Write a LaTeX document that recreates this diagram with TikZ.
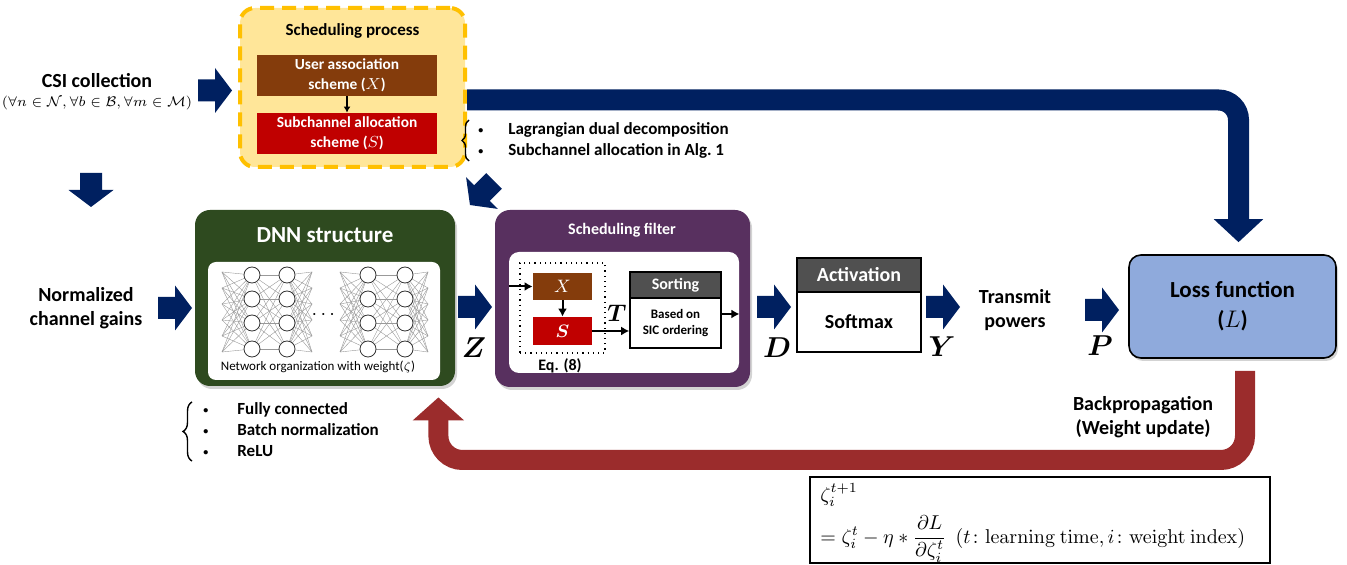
\documentclass[tikz,border=0pt]{standalone}
\usepackage[no-math]{fontspec}
\setmainfont{Carlito}
\usepackage{amsmath}
\usepackage{bm}
\usetikzlibrary{calc,arrows.meta,shadows,decorations.pathreplacing}

\definecolor{navy}{HTML}{002060}
\definecolor{brick}{HTML}{9B2C2C}
\definecolor{dnngreen}{HTML}{2E4A1F}
\definecolor{filterpurple}{HTML}{58305F}
\definecolor{assocbrown}{HTML}{843C0C}
\definecolor{subred}{HTML}{C00000}
\definecolor{schedfill}{HTML}{FFE699}
\definecolor{schedline}{HTML}{FFC000}
\definecolor{headgray}{HTML}{505050}
\definecolor{lossblue}{HTML}{8FAADC}

\def\fsz#1#2{\fontsize{#1}{#2}\selectfont\bfseries}
\def\bul{\raisebox{0.6pt}{\fontsize{5}{5}\selectfont\textbullet}}
\def\BlockArrow#1#2{%
	\begin{scope}[shift={(#1)}, rotate=#2]
		\fill[navy] (0,-11) -- (17,-11) -- (17,-22.5) -- (34,0) -- (17,22.5) -- (17,11) -- (0,11) -- cycle;
	\end{scope}
}

\tikzset{
	box/.style={inner sep=0pt, rounded corners=7.5pt},
	shade box/.style={box, drop shadow={opacity=0.35, shadow xshift=1pt, shadow yshift=-1.5pt}},
	white title/.style={text=white, font=\fsz{#1}{#1}},
	plain box/.style={draw=black, line width=0.8pt, inner sep=0pt},
	inner box/.style={fill=#1, text=white, inner sep=0pt, align=center},
	flow/.style={line width=1pt, -{Latex[length=4pt, width=4.5pt]}},
	sym/.style={font=\fsz{14}{14}},
	notes/.style={anchor=west, inner sep=0pt, align=left, font=\fsz{8.5}{10.5}},
	neuron/.style={draw=black!80, fill=white, line width=0.4pt},
	syn/.style={draw=black!40, line width=0.2pt},
	feed/.style={navy, line width=10.5pt, rounded corners=10pt, -{Triangle[length=11.5pt, width=24pt]}},
	backprop/.style={brick, line width=10pt, rounded corners=12pt, -{Triangle[length=11.5pt, width=25pt]}}
}

\begin{document}
\begin{tikzpicture}[x=0.5pt, y=-0.5pt, font=\fsz{10}{12}]
\useasboundingbox (0,0) rectangle (1347,565);

% scheduling process
\node[box, fill=schedfill, draw=schedline, line width=2pt, dash pattern=on 7pt off 4pt, minimum width=112.5pt, minimum height=79.5pt] (sched) at (352.5,87.5) {};
\node[font=\fsz{8.5}{10}] (schedtitle) at (352.5,31) {Scheduling process};
\node[inner box=assocbrown, minimum width=90pt, minimum height=20.5pt, font=\fsz{7.7}{10}] (assoc) at (347,75.5) {User association\\scheme ($X$)};
\node[inner box=subred, minimum width=90pt, minimum height=20.5pt, font=\fsz{7.7}{10}] (subch) at (347,133.5) {Subchannel allocation\\scheme ($S$)};
\draw[line width=0.75pt, -{Latex[length=3pt, width=3.5pt]}] (assoc) -- (subch);

\draw[decorate, decoration={brace, amplitude=3.5pt}, line width=0.7pt] (469,161) -- (469,120);
\node[notes] (schednotes) at (478,140.5) {\makebox[15pt][l]{\bul}Lagrangian dual decomposition\\\makebox[15pt][l]{\bul}Subchannel allocation in Alg.~1};

% CSI input
\node (csi) at (97,81) {CSI collection};
\node[font=\fsz{6.6}{8}\mdseries] (csiset) at (97,103) {$(\forall n\in\mathcal{N},\forall b\in\mathcal{B},\forall m\in\mathcal{M})$};
\BlockArrow{198,90.5}{0}
\BlockArrow{91,173}{-90}
\BlockArrow{494,181}{-135}

\node[align=center] (gains) at (86,308) {Normalized\\channel gains};
\BlockArrow{158,308}{0}

% DNN structure
\node[shade box, fill=dnngreen, minimum width=130pt, minimum height=88pt] (dnn) at (325,298) {};
\node[white title=11.5] (dnntitle) at (325,235) {DNN structure};
\node[box, fill=white, rounded corners=4pt, minimum width=116pt, minimum height=59pt] (dnnin) at (324,321) {};
\foreach \gx/\ga/\gb/\gout in {222/252/287/312, 340/368/405/428}{
	\foreach \ya in {275,299,323,349}{
		\foreach \yb in {272,288,304,320,336,352}{
			\draw[syn] (\gx,\yb) -- (\ga,\ya);
			\draw[syn] (\gb,\ya) -- (\gout,\yb);
		}
		\foreach \yc in {275,299,323,349}
			\draw[syn] (\ga,\ya) -- (\gb,\yc);
	}
	\foreach \ya in {275,299,323,349}{
		\draw[neuron] (\ga,\ya) circle (4pt);
		\draw[neuron] (\gb,\ya) circle (4pt);
	}
}
\node (dots) at (325,315) {$\cdots$};
\node[font=\fsz{6.5}{8}\mdseries] (dnncap) at (318,367) {Network organization with weight($\zeta$)};

\draw[decorate, decoration={brace, amplitude=4.5pt}, line width=0.7pt] (192,461) -- (192,402);
\node[notes] (dnnnotes) at (203,430) {\makebox[17pt][l]{\bul}Fully connected\\\makebox[17pt][l]{\bul}Batch normalization\\\makebox[17pt][l]{\bul}ReLU};

\BlockArrow{458,307}{0}
\node[sym] (zlab) at (474,348) {$\bm{Z}$};

% scheduling filter
\node[shade box, fill=filterpurple, minimum width=127.5pt, minimum height=88.5pt] (filter) at (622.5,298.5) {};
\node[white title=8] (filtertitle) at (622,230) {Scheduling filter};
\node[box, fill=white, rounded corners=5pt, minimum width=115pt, minimum height=60.5pt] (filterin) at (624,312.5) {};
\node[draw=black, dotted, line width=0.6pt, minimum width=42.5pt, minimum height=45pt, inner sep=0pt] (eqbox) at (562.5,308) {};
\node[inner box=assocbrown, minimum width=29.5pt, minimum height=13.5pt, font=\fsz{9}{9}] (xbox) at (562.5,286.5) {$X$};
\node[inner box=subred, minimum width=29.5pt, minimum height=14pt, font=\fsz{9}{9}] (sbox) at (562.5,331) {$\bm{S}$};
\node[font=\fsz{8}{8}] (eqlab) at (560,366) {Eq. (8)};
\node[plain box, fill=headgray, text=white, minimum width=45.5pt, minimum height=13pt, font=\fsz{8}{8}] (sorthd) at (675.5,285) {Sorting};
\node[plain box, fill=white, minimum width=45.5pt, minimum height=25pt, align=center, font=\fsz{6.5}{8}] (sortbd) at (675.5,323) {Based on\\SIC ordering};
\draw[flow] (filterin.west |- xbox) -- (xbox);
\draw[flow] (xbox) -- (sbox);
\draw[flow] (sbox) -- (sortbd.west |- sbox);
\coordinate (sortout) at ($(sortbd.east)+(0,-9)$);
\draw[flow] (sortout) -- (filterin.east |- sortout);
\node[font=\fsz{12}{12}] (tlab) at (617,313) {$\bm{T}$};

% activation
\BlockArrow{757,307}{0}
\node[sym] (dlab) at (777,348) {$\bm{D}$};
\node[plain box, fill=headgray, text=white, minimum width=62pt, minimum height=17pt] (acthd) at (859,275) {Activation};
\node[plain box, fill=white, minimum width=62pt, minimum height=30pt] (actbd) at (859,322) {Softmax};

\BlockArrow{926,307}{0}
\node[sym] (ylab) at (942,347) {$\bm{Y}$};
\node[align=center] (powers) at (1015,310) {Transmit\\powers};
\BlockArrow{1085,310}{0}
\node[sym] (plab) at (1100,346) {$\bm{P}$};

% loss
\node[shade box, fill=lossblue, draw=black, line width=0.8pt, rounded corners=6pt, minimum width=103.5pt, minimum height=51.5pt, align=center, font=\fsz{11.5}{15}] (loss) at (1232.5,306.5) {Loss function\\($L$)};

\coordinate (topcorner) at (1238.5,100);
\draw[feed, shorten >=6pt] ($(sched.east)+(0,12.5)$) -- (topcorner) -- (topcorner |- loss.north);

\coordinate (backcorner) at (1245,460);
\draw[backprop, shorten <=6pt, shorten >=5.5pt] (loss.south -| backcorner) -- (backcorner) -| ($(dnn.south east)+(-17,0)$);
\node[align=center] (bplab) at (1143,417) {Backpropagation\\(Weight update)};

% weight update rule
\node[draw=black, line width=1pt, minimum width=230pt, minimum height=43pt, inner sep=0pt] (update) at (1040,520) {};
\node[anchor=west, inner sep=0pt, font=\fsz{10}{12}\mdseries] (rulea) at (820,495) {$\zeta_i^{t+1}$};
\node[anchor=west, inner sep=0pt, font=\fsz{10}{12}\mdseries] (ruleb) at (820,539) {$=\zeta_i^t-\eta*\dfrac{\partial L}{\partial\zeta_i^t}\ \ (t\colon\mathrm{learning~time}, i\colon\mathrm{weight~index})$};
\end{tikzpicture}
\end{document}
